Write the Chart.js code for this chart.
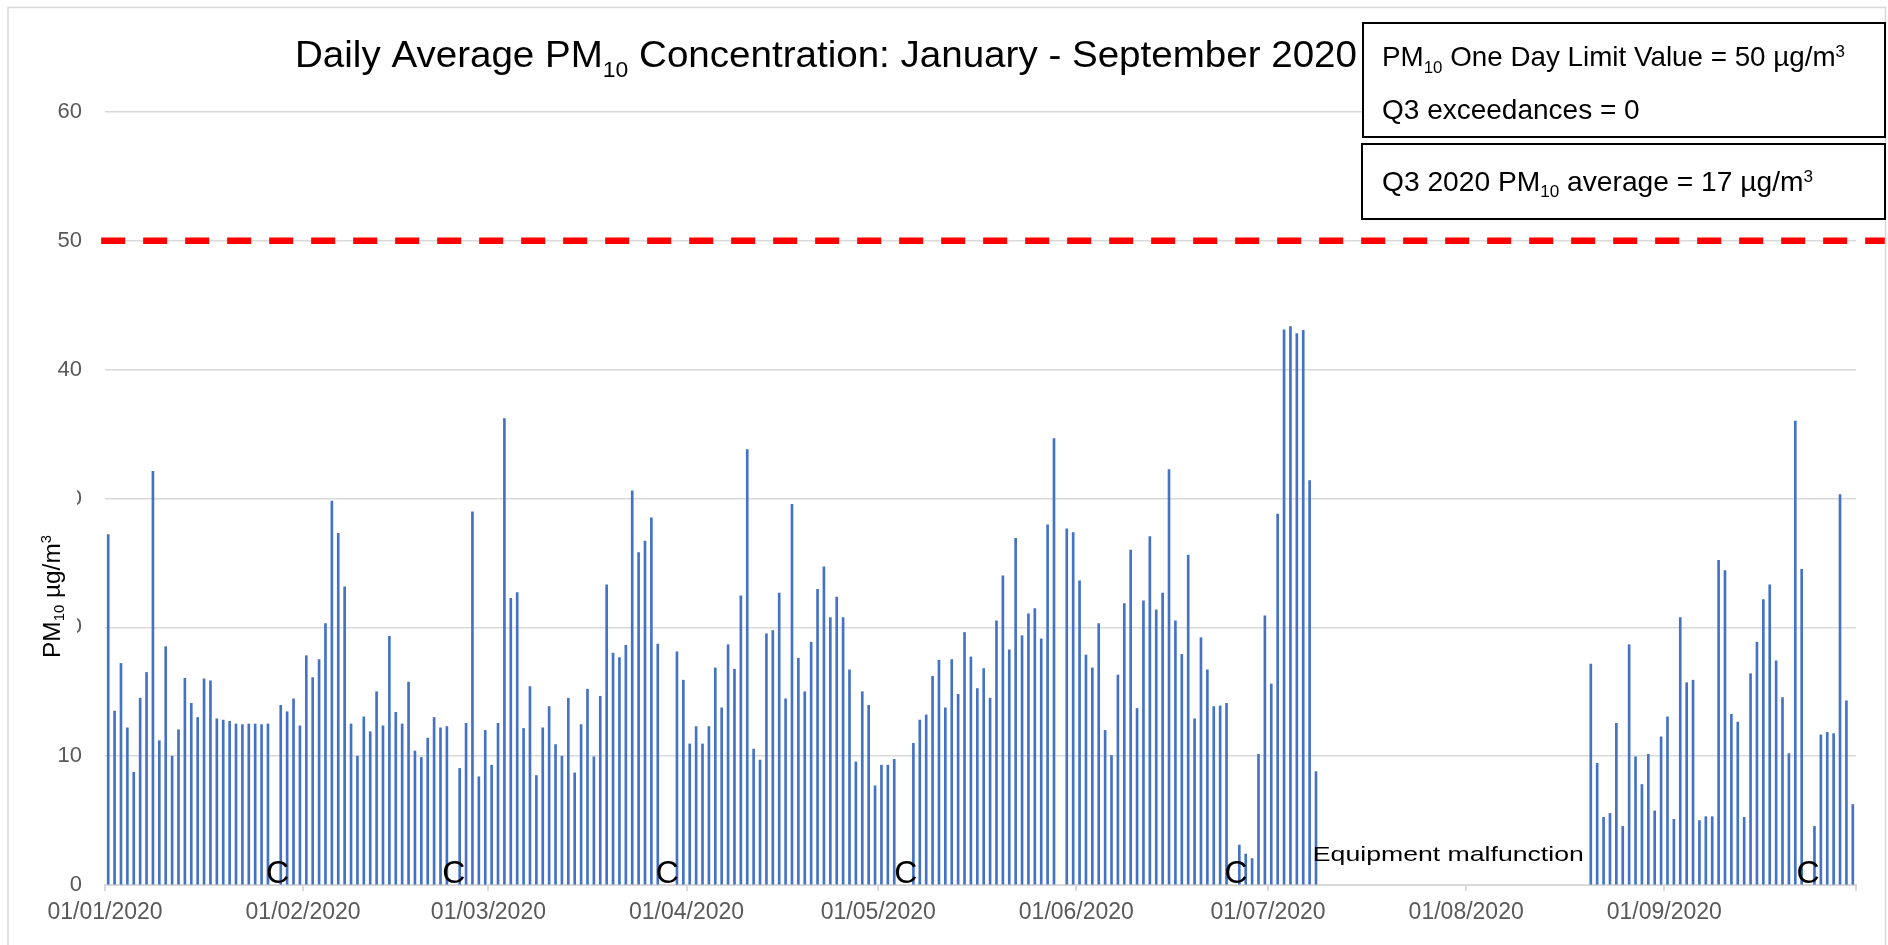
<!DOCTYPE html>
<html>
<head>
<meta charset="utf-8">
<script src="https://cdn.jsdelivr.net/npm/chart.js@4.4.1/dist/chart.umd.min.js"></script>
<style>
html,body{margin:0;padding:0;background:#fff;}
canvas{display:block;}
</style>
</head>
<body>
<canvas id="c" width="1888" height="945"></canvas>
<script>
// ---------------- DATA (daily average PM10, µg/m3; null = no data) ----------------
const jan = [27.2, 13.5, 17.2, 12.2, 8.75, 14.5, 16.5, 32.1, 11.2, 18.5, 10.0, 12.05, 16.05, 14.1, 13.0, 16.0,
             15.85, 12.9, 12.8, 12.7, 12.5, 12.45, 12.5, 12.5, 12.45, 12.5, null, 13.95, 13.45, 14.45, 12.35];
const feb = [17.8, 16.1, 17.5, 20.3, 29.8, 27.3, 23.15, 12.5, 10.0, 13.05, 11.9, 15.0, 12.35, 19.3,
             13.4, 12.5, 15.75, 10.4, 9.9, 11.4, 13.0, 12.2, 12.3, null, 9.05, 12.55, 28.96, 8.4, 12.0];
const mar = [9.3, 12.55, 36.2, 22.25, 22.7, 12.15, 15.4, 8.5, 12.2, 13.85, 10.9, 10.0, 14.5, 8.7, 12.45,
             15.2, 9.95, 14.65, 23.3, 18.0, 17.65, 18.6, 30.6, 25.8, 26.7, 28.5, 18.7, null, null, 18.1, 15.9];
const apr = [10.95, 12.3, 10.95, 12.3, 16.85, 13.75, 18.65, 16.75, 22.45, 33.8, 10.55, 9.7, 19.5, 19.75, 22.65,
             14.45, 29.55, 17.6, 15.0, 18.85, 22.95, 24.7, 20.75, 22.35, 20.75, 16.7, 9.55, 15.0, 13.95, 7.7];
const may = [9.3, 9.3, 9.75, null, null, 11.0, 12.8, 13.2, 16.2, 17.45, 13.75, 17.5, 14.8, 19.6, 17.7, 15.25,
             16.8, 14.5, 20.5, 24.0, 18.25, 26.9, 19.35, 21.05, 21.45, 19.1, 27.95, 34.65, null, 27.65, 27.35];
const jun = [23.6, 17.85, 16.85, 20.3, 12.0, 10.05, 16.3, 21.85, 26.0, 13.7, 22.05, 27.05, 21.35, 22.65, 32.25,
             20.5, 17.9, 25.6, 12.9, 19.2, 16.7, 13.85, 13.9, 14.1, null, 3.1, 2.4, 2.05, 10.15, 20.9];
const jul = [15.6, 28.8, 43.1, 43.35, 42.8, 43.05, 31.4, 8.8,
             null, null, null, null, null, null, null, null, null, null, null, null,
             null, null, null, null, null, null, null, null, null, null, null];
const aug = [null, null, null, null, null, null, null, null, null, null, null, null, null, null, null, null,
             null, null, null, 17.15, 9.45, 5.25, 5.55, 12.55, 4.55, 18.65, 9.95, 7.8, 10.15, 5.75, 11.5];
const sep = [13.05, 5.1, 20.75, 15.7, 15.9, 5.0, 5.3, 5.3, 25.2, 24.4, 13.25, 12.65, 5.25, 16.4, 18.85,
             22.15, 23.3, 17.4, 14.55, 10.2, 36.0, 24.5, null, 4.55, 11.65, 11.85, 11.75, 30.3, 14.3, 6.25];

const months = [jan, feb, mar, apr, may, jun, jul, aug, sep];
const monthLabels = ['01/01/2020','01/02/2020','01/03/2020','01/04/2020','01/05/2020',
                     '01/06/2020','01/07/2020','01/08/2020','01/09/2020'];
const limitValue = 50;           // PM10 one day limit value
const yTickValues = [0, 10, 20, 30, 40, 50, 60];
const calibrationLabel = 'C';
const calibrationDays = [27.0, 54.6, 88.0, 125.3, 177.0, 266.5];
const malfunctionLabel = 'Equipment malfunction';
const malfunctionDay = 189.0;

// ---------------- derived ----------------
const pm10 = [].concat(...months);
const tickDays = [0];
months.forEach(m => tickDays.push(tickDays[tickDays.length - 1] + m.length));
const totalDays = pm10.length;
const barPoints = pm10.map((v, i) => ({x: i + 0.5, y: v})).filter(p => p.y !== null);

const FONT = "'Liberation Sans', Arial, Helvetica, sans-serif";
const GRID = '#d9d9d9';
const TICK_COLOR = '#595959';

function richWidth(ctx, parts) {
  let w = 0;
  parts.forEach(p => { ctx.font = p.s + 'px ' + FONT; p.w = ctx.measureText(p.t).width; w += p.w; });
  return w;
}
function drawRich(ctx, x, y, parts, targetW) {
  const w = richWidth(ctx, parts);
  const sx = targetW ? targetW / w : 1;
  ctx.save();
  ctx.translate(x, y);
  ctx.scale(sx, 1);
  ctx.textAlign = 'left';
  ctx.textBaseline = 'alphabetic';
  let cx = 0;
  parts.forEach(p => {
    ctx.font = p.s + 'px ' + FONT;
    ctx.fillText(p.t, cx, p.dy || 0);
    cx += p.w;
  });
  ctx.restore();
}

const decor = {
  id: 'decor',
  beforeDraw(chart) {
    const ctx = chart.ctx;
    ctx.save();
    ctx.fillStyle = '#fff';
    ctx.fillRect(0, 0, chart.width, chart.height);
    ctx.restore();
  },
  afterDraw(chart) {
    const ctx = chart.ctx;
    const xs = chart.scales.x, ys = chart.scales.y;
    ctx.save();
    // outer chart border
    ctx.strokeStyle = GRID;
    ctx.lineWidth = 1.5;
    ctx.strokeRect(8, 7.5, 1877.5, 980);

    ctx.fillStyle = '#000';
    // title
    drawRich(ctx, 295, 66.5, [
      {t: 'Daily Average PM', s: 37},
      {t: '10', s: 22, dy: 10},
      {t: ' Concentration: January - September 2020', s: 37}
    ], 1062);

    // y axis title on white box (covers part of the tick labels)
    ctx.fillStyle = '#fff';
    ctx.fillRect(22, 482, 55, 184);
    ctx.save();
    ctx.translate(60, 658);
    ctx.rotate(-Math.PI / 2);
    ctx.fillStyle = '#000';
    drawRich(ctx, 0, 0, [
      {t: 'PM', s: 23},
      {t: '10', s: 14, dy: 4},
      {t: ' µg/m', s: 23},
      {t: '3', s: 14, dy: -9}
    ], 123);
    ctx.restore();

    // info boxes
    ctx.fillStyle = '#fff';
    ctx.strokeStyle = '#000';
    ctx.lineWidth = 2;
    ctx.fillRect(1363, 23, 522, 114);
    ctx.strokeRect(1363, 23, 522, 114);
    ctx.fillRect(1362, 144, 523, 75);
    ctx.strokeRect(1362, 144, 523, 75);
    ctx.fillStyle = '#000';
    drawRich(ctx, 1382, 66, [
      {t: 'PM', s: 28},
      {t: '10', s: 17, dy: 7},
      {t: ' One Day Limit Value = 50 µg/m', s: 28},
      {t: '3', s: 17, dy: -9}
    ], 463);
    drawRich(ctx, 1382, 119, [{t: 'Q3 exceedances = 0', s: 28}]);
    drawRich(ctx, 1382, 191, [
      {t: 'Q3 2020 PM', s: 28},
      {t: '10', s: 17, dy: 6},
      {t: ' average = 17 µg/m', s: 28},
      {t: '3', s: 17, dy: -9}
    ], 431);

    // calibration markers
    ctx.fillStyle = '#000';
    ctx.font = '32px ' + FONT;
    ctx.textAlign = 'center';
    ctx.textBaseline = 'alphabetic';
    calibrationDays.forEach(d => {
      ctx.fillText(calibrationLabel, xs.getPixelForValue(d), ys.getPixelForValue(0.15));
    });
    // malfunction note
    drawRich(ctx, xs.getPixelForValue(malfunctionDay), ys.getPixelForValue(1.85),
      [{t: malfunctionLabel, s: 21}], 271);
    ctx.restore();
  }
};

new Chart(document.getElementById('c'), {
  type: 'bar',
  data: {
    datasets: [
      {
        type: 'line',
        label: 'Limit',
        data: [{x: -0.6, y: limitValue}, {x: totalDays + 4.6, y: limitValue}],
        borderColor: '#ff0000',
        borderWidth: 6.5,
        borderDash: [24, 18],
        borderCapStyle: 'butt',
        pointRadius: 0,
        fill: false,
        clip: false,
        order: 0
      },
      {
        type: 'bar',
        label: 'PM10',
        data: barPoints,
        backgroundColor: '#4472C4',
        borderWidth: 0,
        barThickness: 2,
        order: 1
      }
    ]
  },
  options: {
    responsive: false,
    animation: false,
    devicePixelRatio: 1,
    layout: {padding: {top: 112, right: 32, left: 0, bottom: 0}},
    plugins: {legend: {display: false}, tooltip: {enabled: false}, title: {display: false}},
    scales: {
      x: {
        type: 'linear',
        min: 0,
        max: totalDays,
        offset: false,
        afterBuildTicks: s => { s.ticks = tickDays.map(v => ({value: v})); },
        afterFit: s => { s.height = 60; },
        ticks: {
          autoSkip: false,
          maxRotation: 0,
          minRotation: 0,
          padding: 8,
          color: TICK_COLOR,
          font: {family: FONT, size: 23},
          callback: (v, i) => (i < monthLabels.length ? monthLabels[i] : '')
        },
        grid: {offset: false, drawOnChartArea: false, drawTicks: true, tickLength: 6, color: GRID, lineWidth: 2},
        border: {display: true, color: GRID, width: 2}
      },
      y: {
        min: 0,
        max: 60,
        afterBuildTicks: s => { s.ticks = yTickValues.map(v => ({value: v})); },
        afterFit: s => { s.width = 105; },
        ticks: {
          padding: 23,
          color: TICK_COLOR,
          font: {family: FONT, size: 22}
        },
        grid: {offset: false, color: GRID, lineWidth: 1.5, drawTicks: false},
        border: {display: false}
      }
    }
  },
  plugins: [decor]
});
</script>
</body>
</html>
